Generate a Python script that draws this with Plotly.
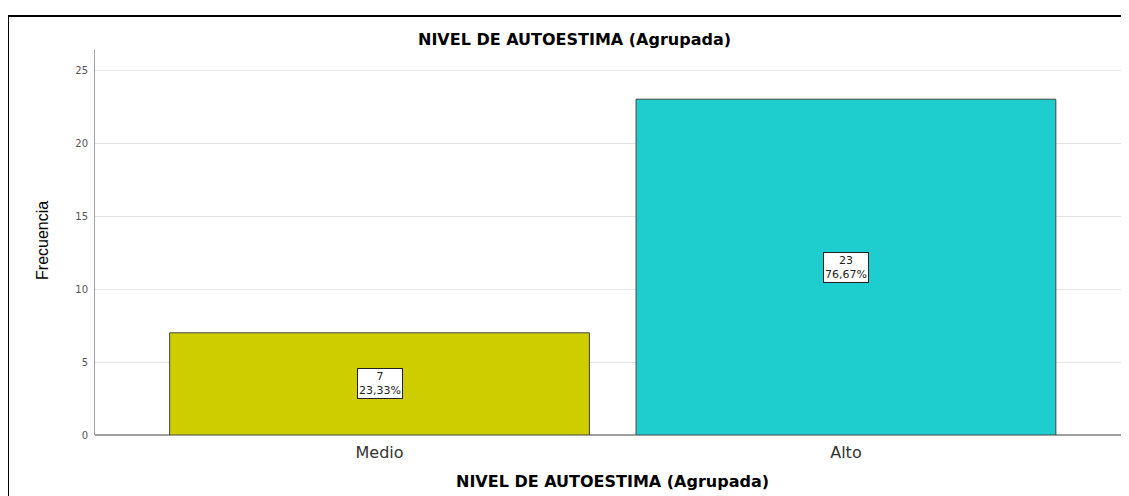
import plotly.graph_objects as go

categories = ["Medio", "Alto"]
frequencies = [7, 23]
percent_labels = ["23,33%", "76,67%"]
bar_colors = ["#cdcd00", "#1ecdcd"]
y_ticks = [0, 5, 10, 15, 20, 25]
title_text = "NIVEL DE AUTOESTIMA (Agrupada)"
y_title = "Frecuencia"

FONT = "DejaVu Sans, Liberation Sans, Arial"

fig = go.Figure()
fig.add_trace(go.Bar(
    x=categories, y=frequencies, width=0.9,
    marker=dict(color=bar_colors, line=dict(color="#444444", width=1)),
    hoverinfo="skip",
))

for c, v, p in zip(categories, frequencies, percent_labels):
    fig.add_annotation(
        x=c, y=v / 2, xref="x", yref="y", text=f"{v}<br>{p}", showarrow=False,
        font=dict(family=FONT, size=11, color="#222222"),
        bgcolor="white", bordercolor="#222222", borderwidth=1, borderpad=1,
    )

# titles as annotations for exact placement
fig.add_annotation(x=0.4597, y=1.026, xref="paper", yref="paper", text=f"<b>{title_text}</b>",
                   showarrow=False, xanchor="center", yanchor="middle",
                   font=dict(family=FONT, size=16, color="black"))
fig.add_annotation(x=0.497, y=-0.1195, xref="paper", yref="paper", text=f"<b>{title_text}</b>",
                   showarrow=False, xanchor="center", yanchor="middle",
                   font=dict(family=FONT, size=16, color="black"))
fig.add_annotation(x=-0.0499, y=0.504, xref="paper", yref="paper", text=y_title,
                   showarrow=False, xanchor="center", yanchor="middle", textangle=-90,
                   font=dict(family="Liberation Sans, Arial", size=16, color="black"))

# outer frame (left and top edges)
fig.add_shape(type="path", xref="paper", yref="paper",
              path="M -0.0835,-0.3 L -0.0835,1.0883 L 1.05,1.0883",
              line=dict(color="black", width=2))

fig.update_layout(
    width=1129, height=496,
    margin=dict(l=87, r=0, t=42, b=69),
    paper_bgcolor="white", plot_bgcolor="white",
    showlegend=False, bargap=0.1,
    font=dict(family=FONT),
)
fig.update_xaxes(
    range=[-0.61, 1.624], showgrid=False, showline=False, zeroline=False,
    ticks="outside", ticklen=3, tickcolor="rgba(255,255,255,0)",
    tickfont=dict(family=FONT, size=16, color="#333333"),
)
fig.update_yaxes(
    range=[0, 26.37], tickvals=y_ticks, showgrid=True, gridcolor="#e3e3e3", gridwidth=1,
    showline=True, linecolor="#a0a0a0", linewidth=1, zeroline=True, zerolinecolor="#a0a0a0",
    ticks="outside", ticklen=4, tickcolor="rgba(255,255,255,0)",
    tickfont=dict(family=FONT, size=10, color="#555555"),
)

fig.write_html("out.html")
